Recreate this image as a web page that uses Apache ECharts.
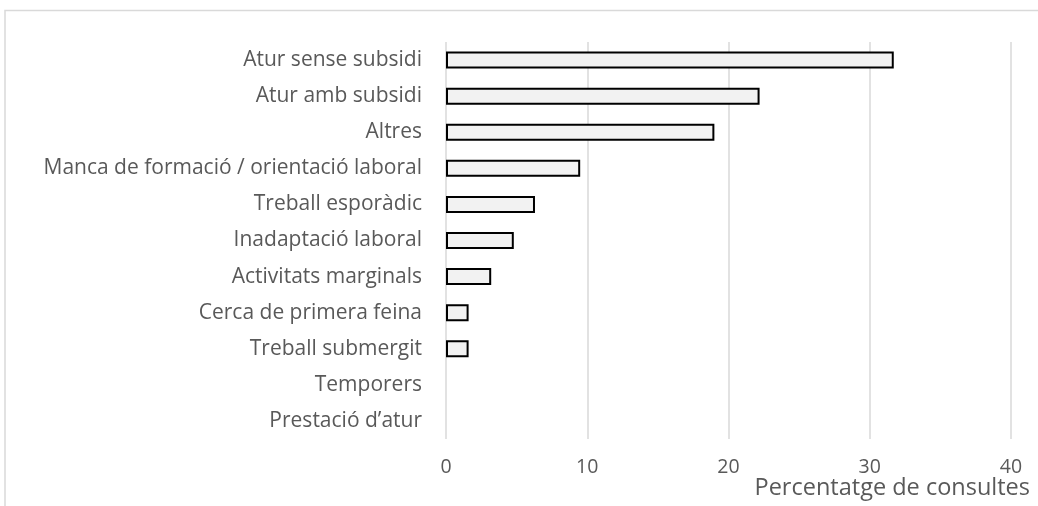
<!DOCTYPE html>
<html>
<head>
<meta charset="utf-8">
<script src="https://cdn.jsdelivr.net/npm/echarts@6/dist/echarts.min.js"></script>
<style>
  html, body { margin: 0; padding: 0; background: #fff; }
  #chart { width: 1038px; height: 506px; }
</style>
</head>
<body>
<div id="chart"></div>
<script>
// Motius de consulta (percentatge), de més a menys freqüent
const categories = [
  'Atur sense subsidi',
  'Atur amb subsidi',
  'Altres',
  'Manca de formació / orientació laboral',
  'Treball esporàdic',
  'Inadaptació laboral',
  'Activitats marginals',
  'Cerca de primera feina',
  'Treball submergit',
  'Temporers',
  'Prestació d\u2019atur'
];
const values = [31.7, 22.2, 19.0, 9.5, 6.3, 4.8, 3.2, 1.6, 1.6, 0, 0];
const xTicks = [0, 10, 20, 30, 40];
const axisTitle = 'Percentatge de consultes';

const FONT = '"Open Sans", "Noto Sans", sans-serif';
const TEXT = '#595959';
const GRID = '#d9d9d9';

const chart = echarts.init(document.getElementById('chart'), null, { renderer: 'canvas' });

chart.setOption({
  animation: false,
  backgroundColor: '#ffffff',
  grid: { left: 446, right: 27, top: 42, bottom: 67, containLabel: false },
  xAxis: {
    type: 'value',
    min: xTicks[0],
    max: xTicks[xTicks.length - 1],
    interval: xTicks[1] - xTicks[0],
    axisLine: { show: false },
    axisTick: { show: false },
    splitLine: { show: true, lineStyle: { color: GRID, width: 1.5 } },
    axisLabel: { color: TEXT, fontFamily: FONT, fontSize: 19.5, margin: 18 }
  },
  yAxis: {
    type: 'category',
    data: categories,
    inverse: true,
    axisLine: { show: false },
    axisTick: { show: false },
    axisLabel: { color: TEXT, fontFamily: FONT, fontSize: 21, margin: 24 }
  },
  series: [{
    type: 'bar',
    barWidth: 17,
    data: values.map(v => ({
      value: v,
      itemStyle: v === 0 ? { borderWidth: 0, color: 'transparent' } : undefined
    })),
    itemStyle: { color: '#f2f2f2', borderColor: '#000000', borderWidth: 2 }
  }],
  graphic: [
    {
      type: 'rect',
      silent: true,
      shape: { x: 5, y: 10.5, width: 1100, height: 600 },
      style: { fill: 'none', stroke: GRID, lineWidth: 1.5 }
    },
    {
      type: 'text',
      silent: true,
      right: 8,
      top: 476,
      style: { text: axisTitle, fill: TEXT, font: '23.5px ' + FONT }
    }
  ]
});
</script>
</body>
</html>
